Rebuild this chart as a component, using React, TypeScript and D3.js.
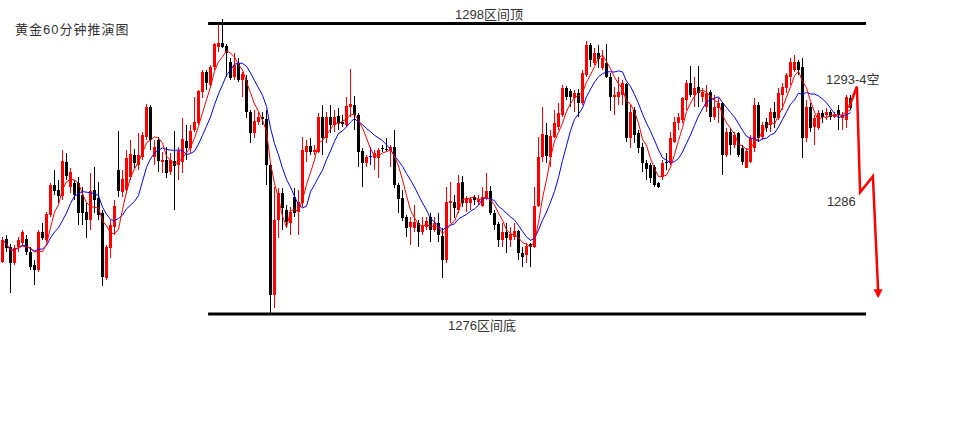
import React from 'react';
import * as d3 from 'd3';

// OHLC of the 60-minute gold candles
const open = [
  1279.93, 1281.68, 1281.07, 1279.85, 1281.07, 1281.37, 1281.68, 1280.69, 1279.70, 1279.33,
  1282.20, 1281.60, 1283.49, 1285.75, 1285.38, 1284.92, 1287.49, 1285.60, 1285.91, 1285.91,
  1285.00, 1283.71, 1283.11, 1285.38, 1284.77, 1283.64, 1278.72, 1281.00, 1282.58, 1286.89,
  1285.23, 1285.38, 1286.36, 1288.02, 1287.27, 1287.87, 1289.38, 1291.65, 1287.87, 1289.16,
  1287.49, 1287.64, 1286.74, 1287.57, 1287.27, 1287.49, 1289.08, 1288.55, 1289.91, 1290.44,
  1292.79, 1294.30, 1293.31, 1294.67, 1296.19, 1296.49, 1296.26, 1295.05, 1293.92, 1294.97,
  1293.69, 1293.69, 1291.27, 1289.69, 1290.52, 1290.89, 1290.74, 1287.27, 1277.44, 1283.11,
  1285.15, 1283.86, 1282.88, 1284.85, 1283.71, 1284.39, 1288.25, 1288.70, 1288.25, 1288.25,
  1290.89, 1289.31, 1290.89, 1290.29, 1290.97, 1290.52, 1290.29, 1291.65, 1291.80, 1291.05,
  1288.32, 1287.42, 1287.95, 1287.79, 1287.79, 1288.55, 1288.47, 1288.40, 1288.63, 1285.75,
  1284.77, 1283.33, 1282.58, 1282.50, 1282.88, 1282.20, 1282.58, 1283.33, 1282.35, 1282.88,
  1281.90, 1280.08, 1284.39, 1284.47, 1283.86, 1285.98, 1284.39, 1284.39, 1284.85, 1284.47,
  1284.17, 1284.77, 1285.30, 1283.64, 1282.80, 1281.60, 1282.20, 1281.60, 1281.82, 1282.27,
  1280.61, 1280.46, 1281.30, 1281.07, 1284.17, 1287.87, 1289.53, 1287.87, 1289.38, 1290.14,
  1291.05, 1293.09, 1292.86, 1292.33, 1292.71, 1291.95, 1294.07, 1296.34, 1294.97, 1295.73,
  1294.60, 1294.97, 1293.92, 1292.41, 1292.41, 1292.56, 1293.39, 1289.31, 1291.42, 1289.69,
  1288.63, 1287.42, 1287.27, 1287.11, 1285.91, 1286.36, 1287.49, 1287.42, 1289.01, 1290.44,
  1290.67, 1292.18, 1293.47, 1292.56, 1293.16, 1292.41, 1291.65, 1292.79, 1290.89, 1291.57,
  1291.95, 1288.02, 1289.76, 1288.78, 1289.69, 1288.55, 1287.04, 1287.49, 1288.55, 1291.80,
  1289.38, 1290.52, 1290.29, 1291.27, 1290.82, 1292.56, 1293.09, 1293.92, 1294.45, 1295.05,
  1294.67, 1289.31, 1291.65, 1290.14, 1290.06, 1291.20, 1291.05, 1291.27, 1290.89, 1291.42,
  1290.82, 1290.67, 1292.33,
];
const high = [
  1281.82, 1281.97, 1281.30, 1281.22, 1281.82, 1282.35, 1281.97, 1281.07, 1280.08, 1282.35,
  1282.88, 1283.71, 1285.91, 1286.89, 1286.13, 1288.40, 1288.17, 1287.04, 1286.13, 1286.36,
  1285.60, 1284.39, 1286.66, 1287.11, 1285.98, 1283.86, 1281.22, 1283.11, 1284.62, 1289.84,
  1286.89, 1288.40, 1289.16, 1288.47, 1289.69, 1289.76, 1291.88, 1291.80, 1289.16, 1289.38,
  1288.25, 1288.63, 1288.17, 1289.84, 1288.63, 1290.82, 1290.29, 1290.29, 1292.41, 1292.94,
  1294.45, 1294.45, 1294.83, 1296.49, 1297.85, 1298.30, 1296.41, 1295.35, 1295.73, 1295.35,
  1294.30, 1294.07, 1291.42, 1291.42, 1291.27, 1291.27, 1291.42, 1287.42, 1285.60, 1285.53,
  1285.53, 1284.24, 1284.09, 1285.53, 1285.38, 1289.38, 1289.16, 1289.31, 1288.78, 1291.20,
  1291.80, 1291.27, 1291.80, 1291.42, 1291.57, 1291.05, 1292.41, 1294.52, 1292.48, 1291.20,
  1288.55, 1288.02, 1288.63, 1288.40, 1288.55, 1288.78, 1289.31, 1288.78, 1289.91, 1285.91,
  1285.38, 1283.49, 1283.33, 1284.24, 1283.11, 1283.33, 1283.33, 1283.64, 1283.33, 1283.64,
  1282.50, 1285.60, 1285.98, 1285.00, 1286.51, 1286.43, 1284.92, 1284.85, 1285.00, 1285.00,
  1285.60, 1286.66, 1285.68, 1283.86, 1282.95, 1282.88, 1282.88, 1282.58, 1282.88, 1282.35,
  1281.07, 1281.37, 1281.37, 1285.60, 1289.38, 1291.65, 1290.44, 1289.91, 1291.42, 1291.95,
  1293.31, 1293.24, 1293.01, 1292.94, 1293.01, 1294.45, 1296.64, 1296.49, 1296.11, 1296.34,
  1295.96, 1296.41, 1294.22, 1293.16, 1293.92, 1293.69, 1293.47, 1291.80, 1291.65, 1289.91,
  1288.93, 1287.64, 1287.42, 1287.27, 1285.98, 1287.64, 1288.17, 1289.76, 1290.89, 1291.20,
  1292.41, 1293.69, 1294.75, 1293.92, 1294.75, 1293.09, 1293.31, 1292.94, 1292.56, 1292.33,
  1292.03, 1290.06, 1290.06, 1289.76, 1289.76, 1288.78, 1288.55, 1289.53, 1292.33, 1292.03,
  1290.52, 1290.82, 1291.57, 1292.03, 1293.09, 1293.47, 1294.22, 1295.35, 1295.58, 1295.20,
  1295.35, 1292.18, 1291.95, 1291.05, 1291.42, 1291.42, 1291.57, 1291.42, 1291.27, 1291.80,
  1291.27, 1292.56, 1292.56,
];
const low = [
  1279.85, 1280.69, 1277.59, 1279.70, 1280.69, 1281.15, 1280.46, 1279.33, 1278.19, 1279.18,
  1281.60, 1281.45, 1283.33, 1285.00, 1284.39, 1284.62, 1286.13, 1285.15, 1284.62, 1282.73,
  1282.73, 1281.75, 1282.35, 1283.64, 1283.11, 1278.12, 1278.57, 1280.24, 1281.97, 1284.85,
  1284.85, 1285.15, 1286.13, 1287.04, 1286.89, 1287.64, 1289.16, 1288.40, 1287.27, 1286.74,
  1286.66, 1286.28, 1286.51, 1283.86, 1286.13, 1286.66, 1287.64, 1288.17, 1289.76, 1290.29,
  1292.33, 1292.94, 1293.16, 1294.45, 1295.81, 1296.11, 1293.92, 1293.69, 1293.69, 1293.54,
  1292.41, 1290.82, 1288.93, 1289.31, 1290.29, 1290.29, 1285.75, 1276.08, 1276.46, 1281.75,
  1282.35, 1282.50, 1281.97, 1283.33, 1281.97, 1284.09, 1287.49, 1288.02, 1288.02, 1288.17,
  1288.02, 1288.93, 1289.69, 1289.76, 1289.91, 1290.14, 1290.14, 1290.89, 1289.91, 1287.11,
  1285.60, 1287.11, 1287.27, 1286.89, 1286.28, 1288.25, 1288.25, 1287.11, 1285.53, 1283.64,
  1283.03, 1281.82, 1281.22, 1282.20, 1281.07, 1281.97, 1282.35, 1281.45, 1282.20, 1281.45,
  1278.72, 1279.85, 1282.88, 1283.26, 1283.64, 1284.09, 1283.71, 1283.86, 1284.24, 1284.24,
  1284.09, 1284.62, 1283.49, 1282.35, 1281.07, 1281.07, 1280.61, 1281.07, 1281.60, 1280.08,
  1279.55, 1279.85, 1279.55, 1281.00, 1284.09, 1287.49, 1287.42, 1287.11, 1289.31, 1289.91,
  1290.89, 1292.18, 1291.65, 1291.27, 1290.89, 1291.80, 1293.92, 1294.67, 1294.83, 1294.60,
  1294.45, 1293.84, 1291.35, 1291.05, 1291.80, 1291.80, 1289.01, 1288.55, 1288.93, 1288.17,
  1286.74, 1286.13, 1285.91, 1285.60, 1285.53, 1286.13, 1286.89, 1287.27, 1288.93, 1289.91,
  1290.44, 1291.42, 1292.41, 1291.65, 1291.65, 1292.03, 1291.27, 1290.52, 1290.67, 1290.44,
  1286.51, 1287.87, 1288.02, 1288.55, 1287.87, 1287.27, 1287.04, 1287.42, 1288.25, 1289.01,
  1289.16, 1289.76, 1289.76, 1290.06, 1290.67, 1291.42, 1292.71, 1293.31, 1294.30, 1294.07,
  1287.79, 1289.01, 1289.76, 1288.78, 1289.91, 1290.44, 1290.67, 1290.67, 1290.82, 1289.91,
  1289.91, 1290.06, 1291.42,
];
const close = [
  1281.60, 1281.00, 1279.85, 1281.00, 1281.60, 1282.20, 1280.69, 1279.55, 1279.33, 1282.20,
  1281.75, 1283.56, 1285.75, 1285.30, 1284.92, 1287.57, 1286.43, 1286.74, 1285.00, 1283.64,
  1283.64, 1283.11, 1285.30, 1284.62, 1283.49, 1278.80, 1281.07, 1282.73, 1284.17, 1285.30,
  1286.21, 1287.79, 1288.10, 1287.42, 1288.02, 1289.53, 1291.65, 1289.16, 1288.63, 1287.57,
  1287.64, 1286.66, 1287.64, 1287.19, 1288.32, 1289.23, 1288.55, 1289.84, 1290.52, 1292.86,
  1294.30, 1293.47, 1294.67, 1296.41, 1296.49, 1296.19, 1295.73, 1293.84, 1294.83, 1293.69,
  1294.15, 1291.27, 1289.69, 1290.59, 1290.89, 1290.74, 1287.27, 1277.44, 1283.11, 1285.15,
  1284.01, 1282.95, 1283.71, 1283.64, 1284.47, 1288.40, 1288.70, 1288.25, 1288.40, 1290.89,
  1289.31, 1290.89, 1290.29, 1290.89, 1290.44, 1290.37, 1291.73, 1291.88, 1291.05, 1288.25,
  1287.42, 1287.87, 1287.95, 1288.17, 1288.40, 1288.47, 1288.40, 1288.63, 1285.75, 1284.70,
  1283.26, 1282.50, 1282.95, 1282.95, 1282.20, 1282.65, 1283.03, 1282.35, 1282.88, 1281.97,
  1280.08, 1284.47, 1284.54, 1284.01, 1285.91, 1284.39, 1284.77, 1284.70, 1284.62, 1284.70,
  1284.85, 1285.30, 1283.64, 1282.73, 1281.60, 1282.20, 1281.75, 1282.05, 1282.27, 1280.61,
  1280.31, 1281.15, 1281.07, 1284.17, 1287.87, 1289.61, 1287.95, 1289.46, 1290.44, 1291.20,
  1293.09, 1292.41, 1292.41, 1292.71, 1291.95, 1294.22, 1296.34, 1295.20, 1295.73, 1295.28,
  1295.35, 1293.92, 1292.41, 1292.56, 1292.79, 1293.47, 1289.31, 1291.27, 1289.53, 1288.55,
  1287.42, 1286.96, 1286.28, 1285.75, 1285.60, 1287.42, 1287.42, 1289.31, 1290.52, 1290.89,
  1292.33, 1293.47, 1292.56, 1293.09, 1292.71, 1292.79, 1292.71, 1290.89, 1291.65, 1291.95,
  1288.02, 1289.76, 1288.78, 1289.53, 1288.02, 1287.49, 1288.32, 1289.31, 1291.80, 1289.31,
  1290.29, 1290.06, 1291.27, 1290.82, 1292.71, 1293.16, 1294.07, 1295.05, 1295.05, 1294.45,
  1289.31, 1291.65, 1290.06, 1290.82, 1291.20, 1290.89, 1291.27, 1290.89, 1291.05, 1291.05,
  1291.05, 1292.41, 1291.57,
];

// Moving-average periods shown on the chart
const maFastPeriod = 5;
const maSlowPeriod = 10;

// Range levels and their labels
const rangeTop = 1298;
const rangeBottom = 1276;
const rangeStartIndex = 51.4;
const rangeEndIndex = 215.9;
const rangeTopLabel = '1298区间顶';
const rangeBottomLabel = '1276区间底';

// Forecast path (candle index, price)
const forecastIdx = [211.6, 213.6, 214.4, 217.6, 218.9];
const forecastPrice = [1291.6, 1293.2, 1285.2, 1286.4, 1277.8];
const forecastTipPrice = 1277.2;

// Annotations
const shortLabel = '1293-4空';
const shortLabelIdx = 205.9;
const shortLabelPrice = 1293.4;
const targetLabel = '1286';
const targetLabelIdx = 206.1;
const targetLabelPrice = 1284.17;
const title = '黄金60分钟推演图';

const FONT = '"Liberation Sans", "Noto Sans CJK SC", sans-serif';

export default function App() {
  const W = 968;
  const H = 435;
  const n = close.length;
  const x = d3.scaleLinear().domain([0, n - 1]).range([2.5, 850.5]);
  const y = d3.scaleLinear().domain([rangeBottom, rangeTop]).range([314, 23]);

  const ma = (p: number) =>
    close.map((_, i) => d3.mean(close.slice(Math.max(0, i - p + 1), i + 1)) as number);
  const maFast = ma(maFastPeriod);
  const maSlow = ma(maSlowPeriod);

  const line = d3
    .line<number>()
    .x((_, i) => x(i))
    .y((d) => y(d));

  const fpts: [number, number][] = forecastIdx.map((fi, k) => [x(fi), y(forecastPrice[k])]);
  const fLine = d3.line()(fpts) as string;
  const tipX = x(forecastIdx[forecastIdx.length - 1]);
  const tipY = y(forecastTipPrice);

  return (
    <svg
      width={W}
      height={H}
      style={{ position: 'absolute', left: 0, top: 0, background: '#fff' }}
      fontFamily={FONT}
    >
      <rect x={0} y={0} width={W} height={H} fill="#fff" />
      <text x={15} y={33.5} fontSize={13} fill="#333" letterSpacing={1}>
        {title}
      </text>

      {/* range lines */}
      <line
        x1={x(rangeStartIndex)}
        x2={x(rangeEndIndex)}
        y1={y(rangeTop) + 0.5}
        y2={y(rangeTop) + 0.5}
        stroke="#000"
        strokeWidth={3}
      />
      <line
        x1={x(rangeStartIndex)}
        x2={x(rangeEndIndex)}
        y1={y(rangeBottom)}
        y2={y(rangeBottom)}
        stroke="#000"
        strokeWidth={3}
      />
      <text x={489} y={18.5} fontSize={13} fill="#333" textAnchor="middle">
        {rangeTopLabel}
      </text>
      <text x={482} y={330} fontSize={13} fill="#333" textAnchor="middle">
        {rangeBottomLabel}
      </text>

      {/* candles */}
      <g shapeRendering="crispEdges">
        {close.map((c, i) => {
          const o = open[i];
          const col = c > o ? '#ff0000' : c < o ? '#000000' : '#0000ff';
          const xc = x(i);
          const top = Math.min(y(o), y(c));
          const h = Math.max(1, Math.abs(y(o) - y(c)));
          return (
            <g key={i}>
              <line x1={xc} x2={xc} y1={y(high[i])} y2={y(low[i])} stroke={col} strokeWidth={1} />
              <rect x={xc - 1.5} y={top} width={3} height={h} fill={col} />
            </g>
          );
        })}
      </g>

      {/* moving averages */}
      <path d={line(maSlow) as string} fill="none" stroke="#0000ff" strokeWidth={1} />
      <path d={line(maFast) as string} fill="none" stroke="#ff0000" strokeWidth={1} />

      {/* annotations */}
      <text x={x(shortLabelIdx)} y={y(shortLabelPrice)} fontSize={13} fill="#333">
        {shortLabel}
      </text>
      <text x={x(targetLabelIdx)} y={y(targetLabelPrice)} fontSize={13} fill="#333">
        {targetLabel}
      </text>

      {/* forecast arrow */}
      <path d={fLine} fill="none" stroke="#ff0000" strokeWidth={2.5} strokeLinejoin="miter" />
      <polygon
        points={`${tipX - 4.5},${tipY - 9} ${tipX + 4.5},${tipY - 9} ${tipX},${tipY}`}
        fill="#ff0000"
      />
    </svg>
  );
}
